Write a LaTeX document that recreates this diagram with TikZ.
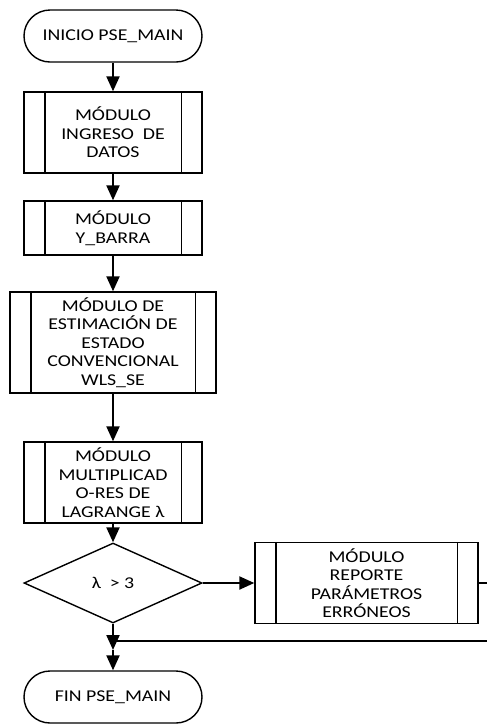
\documentclass[tikz,border=0pt]{standalone}
\usepackage{fontspec}
\setmainfont{Carlito}[FakeStretch=1.2]
\usetikzlibrary{arrows.meta,shapes.geometric}

\begin{document}
\begin{tikzpicture}[x=1pt,y=-1pt,
		>={Triangle[length=15pt,width=13pt]},
		font=\fontsize{16.5}{18.5}\selectfont,
		flecha/.style={->,line width=2.2pt},
		linea/.style={line width=1.5pt},
		terminal/.style={draw,line width=1.4pt,rounded corners=26pt,minimum width=178pt,minimum height=52pt,inner sep=0pt},
		modulo/.style={draw,line width=1.4pt,align=center,inner sep=0pt,
			append after command={
				\pgfextra{\draw[line width=1.4pt] ([xshift=21.5pt]\tikzlastnode.north west)--([xshift=21.5pt]\tikzlastnode.south west);
				\draw[line width=1.4pt] ([xshift=-21.5pt]\tikzlastnode.north east)--([xshift=-21.5pt]\tikzlastnode.south east);}}},
		decision/.style={draw,diamond,line width=1.4pt,aspect=2.2,inner sep=0pt,minimum width=178pt,minimum height=80pt}]
			\useasboundingbox[fill=white] (0,0) rectangle (487,724);
			
			\node[terminal] (ini) at (113,36) {INICIO PSE\_MAIN};
			\node[modulo,minimum width=178pt,minimum height=81pt] (ingreso) at (113,132.5) {MÓDULO\\INGRESO\ \ DE\\DATOS};
			\node[modulo,minimum width=178pt,minimum height=54pt] (ybarra) at (113,228) {MÓDULO\\Y\_BARRA};
			\node[modulo,minimum width=206pt,minimum height=101pt] (wls) at (113,342.5) {MÓDULO DE\\ESTIMACIÓN DE\\ESTADO\\CONVENCIONAL\\WLS\_SE};
			\node[modulo,minimum width=178pt,minimum height=81pt] (lagrange) at (113,482.5) {MÓDULO\\MULTIPLICAD\\O-RES DE\\LAGRANGE λ};
			\node[decision] (lambda) at (113,583) {λ\ \ > 3};
			\node[modulo,minimum width=223pt,minimum height=81pt] (reporte) at (366.5,583) {MÓDULO\\REPORTE\\PARÁMETROS\\ERRÓNEOS};
			\node[terminal] (fin) at (113,697) {FIN PSE\_MAIN};
			
			\coordinate (union) at (113,650);
			\coordinate (cruce) at (113,641);
			\coordinate (borde1) at (487,583);
			\coordinate (borde2) at (487,641);
			
			\draw[flecha] (ini)--(ingreso);
			\draw[flecha] (ingreso)--(ybarra);
			\draw[flecha] (ybarra)--(wls);
			\draw[flecha] (wls)--(lagrange);
			\draw[flecha] (lagrange)--(lambda);
			\draw[flecha] (lambda.east)--(reporte.west);
			\draw[flecha] (lambda.south)--(union);
			\draw[flecha] (union)--(fin);
			
			\draw[linea] (reporte.east)--(borde1);
			\draw[linea] (borde2)--(cruce);
		\end{tikzpicture}
\end{document}
